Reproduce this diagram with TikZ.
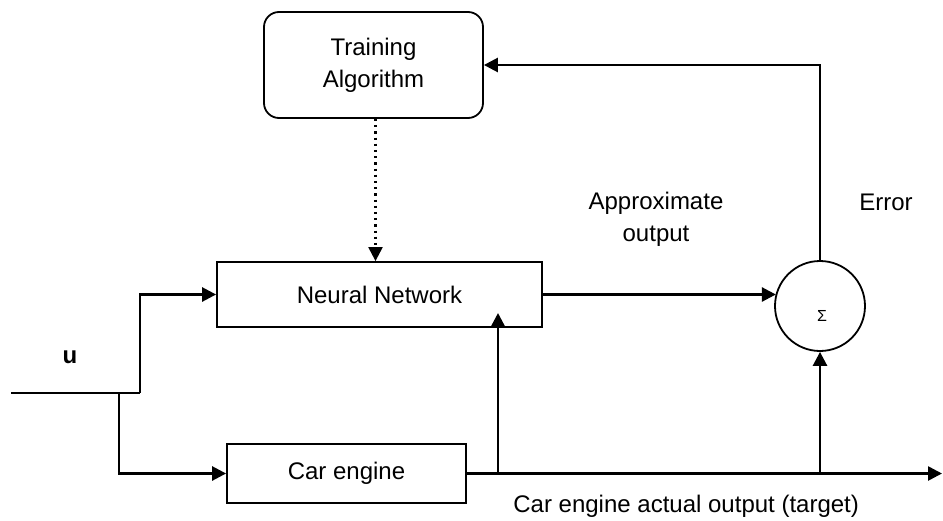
\documentclass[tikz,border=0pt]{standalone}
\usepackage{fontspec}
\setmainfont{Liberation Sans}
\usetikzlibrary{arrows.meta}

\tikzset{
  block/.style={draw, line width=0.9pt, inner sep=0pt, font=\fontsize{12}{16}\selectfont, align=center},
  wire/.style={line width=1.3pt},
  flow/.style={wire, -{Triangle[length=7pt,width=7pt]}},
  lbl/.style={inner sep=0pt, font=\fontsize{12}{16}\selectfont, align=center}
}

\begin{document}
\begin{tikzpicture}[x=0.5pt, y=-0.5pt]
\useasboundingbox (0,0) rectangle (943,520);

% blocks
\node[block, rounded corners=7.5pt, minimum width=109.5pt, minimum height=53pt] (train) at (373.5,65) {Training\\Algorithm};
\node[block, minimum width=162.5pt, minimum height=32.5pt] (nn) at (379.5,294.5) {Neural Network};
\node[block, minimum width=119.5pt, minimum height=29.5pt] (car) at (346.5,473.5) {Car engine};
\node[draw, circle, line width=0.9pt, minimum size=45pt, inner sep=0pt] (sum) at (820,306) {};
\node[inner sep=0pt, font=\fontsize{8}{8}\selectfont] (sigma) at (822,316) {Σ};

% helper points
\coordinate (in) at (11,393);
\coordinate (split) at (119,393);
\coordinate (upper) at (140,393);
\coordinate (tapnn) at (498,473.5);
\coordinate (nnin) at (498,313);
\coordinate (tapsum) at (820,473.5);
\coordinate (outend) at (942,473.5);
\coordinate (errtop) at (820,65);

% input u splits to the network and to the engine
\draw[wire] (in) -- (upper);
\draw[flow] (upper) |- (nn.west);
\draw[flow] (split) |- (car.west);

% engine output
\draw[flow] (car.east) -- (outend);
\draw[flow] (tapnn) -- (nnin);
\draw[flow] (tapsum) -- (sum.south);

% approximate output to the summing junction
\draw[flow] (nn.east) -- (nn.east -| sum.164);

% error fed back to the training algorithm
\draw[flow] (sum.north) -- (errtop) -- (train.east);

% training adjusts the network
\draw[line width=1.1pt, dotted, -{Triangle[length=7pt,width=7pt]}] (train.south) ++(2,0) coordinate (tr) -- (tr |- nn.north);

% labels
\node[lbl, font=\fontsize{12}{16}\selectfont\bfseries, anchor=base] (ulbl) at (70,363) {u};
\node[lbl] (approx) at (656,219) {Approximate\\output};
\node[lbl, anchor=base] (err) at (886,210) {Error};
\node[lbl, anchor=base west] (target) at (513,512) {Car engine actual output (target)};
\end{tikzpicture}
\end{document}
